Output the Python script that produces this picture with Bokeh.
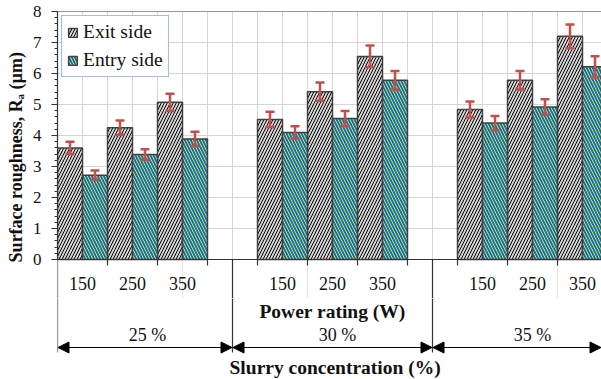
from bokeh.plotting import figure
from bokeh.layouts import column
from bokeh.models import Range1d, FixedTicker, Arrow, NormalHead, ColumnDataSource
from bokeh.core.properties import value
from bokeh.embed import file_html
from bokeh.resources import INLINE

# ---- data ----
powers = ["150", "250", "350"]
concentrations = ["25 %", "30 %", "35 %"]
exit_ra = [3.6, 4.25, 5.07, 4.52, 5.41, 6.55, 4.84, 5.78, 7.2]
entry_ra = [2.72, 3.39, 3.89, 4.1, 4.55, 5.78, 4.4, 4.92, 6.22]
exit_err = [0.2, 0.23, 0.28, 0.25, 0.3, 0.35, 0.26, 0.3, 0.38]
entry_err = [0.15, 0.17, 0.23, 0.2, 0.24, 0.3, 0.23, 0.25, 0.34]
y_ticks = [0, 1, 2, 3, 4, 5, 6, 7, 8]

FONT_NAME = "Liberation Serif"
FONT = value(FONT_NAME)
PX = 1 / 31.0  # data units per pixel vertically
TXT = "#111111"
AX = "#333333"

# positions
xe, xn = [], []
for g in range(3):
    for k in range(3):
        xe.append(8 * g + 2 * k + 0.5)
        xn.append(8 * g + 2 * k + 1.5)
X_END = 21.76
TOP_H = 298
BELOW = (TOP_H - 259) * PX

# ================= main plot =================
p = figure(width=601, height=TOP_H, output_backend="svg", toolbar_location=None,
           x_range=Range1d(0, X_END), y_range=Range1d(-BELOW, 8),
           x_axis_location=None, min_border_left=57, min_border_top=11,
           min_border_right=0, min_border_bottom=0)
p.outline_line_color = None

ya = p.yaxis[0]
ya.ticker = FixedTicker(ticks=y_ticks, minor_ticks=[i * 0.2 for i in range(41)])
ya.bounds = (0, 8)
ya.axis_line_color = AX
ya.axis_line_width = 1.2
ya.major_tick_line_color = AX
ya.minor_tick_line_color = AX
ya.major_tick_in = 0
ya.major_tick_out = 6
ya.minor_tick_in = 0
ya.minor_tick_out = 3
ya.major_label_standoff = 10
ya.major_label_text_font = FONT_NAME
ya.major_label_text_font_size = "17px"
ya.major_label_text_color = TXT
ya.axis_label = "Surface roughness,  R\u2090 (\u00b5m)"
ya.axis_label_text_font = FONT_NAME
ya.axis_label_text_font_style = "bold"
ya.axis_label_text_font_size = "18px"
ya.axis_label_text_color = TXT
ya.axis_label_standoff = 4

p.ygrid.ticker = FixedTicker(ticks=y_ticks[1:-1])
p.ygrid.grid_line_color = "#d6d6d6"
p.ygrid.grid_line_width = 1

# vertical grid lines inside plot area
gx = list(range(1, 22))
p.segment(x0=gx, y0=[0] * len(gx), x1=gx, y1=[8] * len(gx), line_color="#d6d6d6", line_width=1)

# bars
src_e = ColumnDataSource(dict(x=xe, top=exit_ra))
src_n = ColumnDataSource(dict(x=xn, top=entry_ra))
p.vbar(x="x", top="top", width=1, source=src_e, fill_color="#d4d4d4",
       hatch_pattern="/", hatch_color="black", hatch_weight=1.0, hatch_scale=6,
       line_color="#404040", line_width=1.5, legend_label="Exit side")
p.vbar(x="x", top="top", width=1, source=src_n, fill_color="#0d6cc4",
       hatch_pattern="\\", hatch_color="#f5f52a", hatch_weight=0.9, hatch_scale=6,
       line_color="#404040", line_width=1.5, legend_label="Entry side")

# error bars
ex = xe + xn
ev = exit_ra + entry_ra
er = exit_err + entry_err
lo = [v - e for v, e in zip(ev, er)]
hi = [v + e for v, e in zip(ev, er)]
cw = 0.18
ERR = "#c0504d"
p.segment(x0=ex, y0=lo, x1=ex, y1=hi, line_color=ERR, line_width=2.5)
p.segment(x0=[x - cw for x in ex], y0=lo, x1=[x + cw for x in ex], y1=lo, line_color=ERR, line_width=2.5)
p.segment(x0=[x - cw for x in ex], y0=hi, x1=[x + cw for x in ex], y1=hi, line_color=ERR, line_width=2.5)

# top border and category axis line
p.segment(x0=[0, 0], y0=[8, 0], x1=[X_END, X_END], y1=[8, 0], line_color=AX, line_width=1.2)
tx = [2, 4, 6, 8, 10, 12, 14, 16, 18, 20]
p.segment(x0=tx, y0=[0] * len(tx), x1=tx, y1=[-6 * PX] * len(tx), line_color=AX, line_width=1.2)
sep = [0, 7, 15]
p.segment(x0=sep, y0=[0] * 3, x1=sep, y1=[-BELOW] * 3, line_color=AX, line_width=1.2)

# power tick labels
lab_x, lab_t = [], []
for g in range(3):
    for k in range(3):
        lab_x.append(8 * g + 2 * k + 1)
        lab_t.append(powers[k])
p.text(x=lab_x, y=[-24 * PX] * len(lab_x), text=lab_t, text_font=FONT,
       text_font_size="18px", text_align="center", text_baseline="middle", text_color=TXT)

lg = p.legend[0]
lg.location = "top_left"
lg.margin = 4
lg.border_line_color = "#4a7ebb"
lg.border_line_width = 1.5
lg.background_fill_color = "white"
lg.background_fill_alpha = 1
lg.label_text_font = FONT_NAME
lg.label_text_font_size = "19.5px"
lg.label_text_color = TXT
lg.glyph_width = 11
lg.glyph_height = 11
lg.label_standoff = 5
lg.padding = 5
lg.spacing = 6
lg.label_height = 18

# ================= category labels below =================
q = figure(width=601, height=379 - TOP_H, output_backend="svg", toolbar_location=None,
           x_range=p.x_range, y_range=Range1d(379, TOP_H),
           x_axis_location=None, y_axis_location=None,
           min_border_left=57, min_border_top=0, min_border_right=0, min_border_bottom=0)
q.outline_line_color = None
q.xgrid.visible = False
q.ygrid.visible = False

q.segment(x0=sep, y0=[TOP_H] * 3, x1=sep, y1=[352] * 3, line_color=AX, line_width=1.2)

q.text(x=[11.1], y=[311], text=["Power rating  (W)"], text_font=FONT,
       text_font_style="bold", text_font_size="19.5px", text_align="center",
       text_baseline="middle", text_color=TXT)

q.text(x=[3.6, 11.2, 19.0], y=[334] * 3, text=concentrations, text_font=FONT,
       text_font_size="18px", text_align="center", text_baseline="middle", text_color=TXT)

for a, b in [(0, 7), (7, 15), (15, X_END)]:
    q.add_layout(Arrow(start=NormalHead(size=11, fill_color="black", line_color="black"),
                       end=NormalHead(size=11, fill_color="black", line_color="black"),
                       x_start=a + 0.02, y_start=347, x_end=b - 0.02, y_end=347,
                       line_color="black", line_width=1.2))

q.text(x=[11.3], y=[367], text=["Slurry  concentration  (%)"], text_font=FONT,
       text_font_style="bold", text_font_size="19.5px", text_align="center",
       text_baseline="middle", text_color=TXT)

layout = column(p, q, spacing=0)
open("out.html", "w").write(file_html(layout, INLINE))
